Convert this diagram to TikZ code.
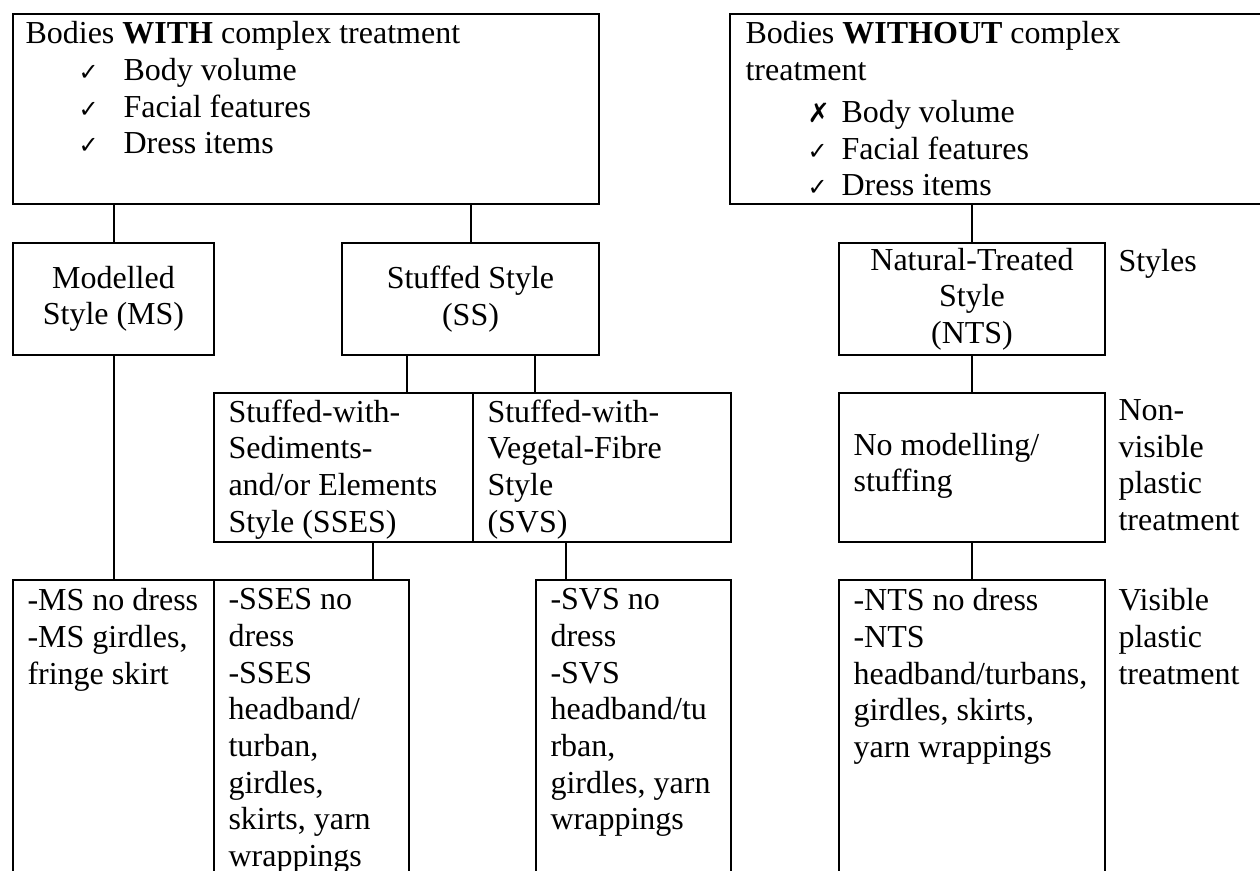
\documentclass[tikz,border=0pt]{standalone}
\usepackage{fontspec}
\setmainfont{Liberation Serif}
\newfontfamily\symfont{DejaVu Sans}
\newlength{\px}\setlength{\px}{0.375pt}
\newcommand{\cmark}{{\symfont\fontsize{9}{9}\selectfont ✓}}
\newcommand{\xmark}{{\symfont\fontsize{10}{10}\selectfont ✗}}
\tikzset{
  box/.style={draw, line width=0.75pt, inner sep=0pt, anchor=north west, align=center,
    font=\fontsize{12}{13.75}\selectfont},
  txt/.style={inner sep=0pt, anchor=north west, align=left,
    font=\fontsize{12}{13.75}\selectfont},
  conn/.style={line width=0.75pt}
}
\begin{document}
\begin{tikzpicture}[x=0.375pt,y=-0.375pt]
\path[use as bounding box, clip] (0,0) rectangle (1260,871);
% top row
\node[box, minimum width=586\px, minimum height=190\px] (bwith) at (12,13) {};
\node[txt] (bwitht) at (25,21) {Bodies \textbf{WITH} complex treatment\\
  \hspace*{53\px}\makebox[45\px][l]{\cmark}Body volume\\
  \hspace*{53\px}\makebox[45\px][l]{\cmark}Facial features\\
  \hspace*{53\px}\makebox[45\px][l]{\cmark}Dress items};
\node[box, minimum width=571\px, minimum height=190\px] (bwithout) at (729,13) {};
\node[txt] (bwithoutt) at (745,21) {Bodies \textbf{WITHOUT} complex\\
  treatment\\[2pt]
  \hspace*{62\px}\makebox[34\px][l]{\xmark}Body volume\\
  \hspace*{62\px}\makebox[34\px][l]{\cmark}Facial features\\
  \hspace*{62\px}\makebox[34\px][l]{\cmark}Dress items};
% styles
\node[box, minimum width=201\px, minimum height=112\px] (ms) at (12,242) {Modelled\\Style (MS)};
\node[box, minimum width=257\px, minimum height=112\px] (ss) at (341,242) {Stuffed Style\\(SS)};
\node[box, minimum width=266\px, minimum height=112\px] (nts) at (838,242) {Natural-Treated\\Style\\(NTS)};
\node[txt] (lstyles) at (1118,249) {Styles};
% sub-styles
\node[box, minimum width=259\px, minimum height=149\px] (sses) at (213,392) {};
\node[txt] (ssest) at (228,399) {Stuffed-with-\\Sediments-\\and/or Elements\\Style (SSES)};
\node[box, minimum width=258\px, minimum height=149\px] (svs) at (472,392) {};
\node[txt] (svst) at (487,399) {Stuffed-with-\\Vegetal-Fibre\\Style\\(SVS)};
\node[box, minimum width=266\px, minimum height=149\px] (nomod) at (838,392) {};
\node[txt, anchor=west] (nomodt) at (853,466) {No modelling/\\stuffing};
\node[txt] (lnonvis) at (1118,399) {Non-\\visible\\plastic\\treatment};
% dress
\node[box, minimum width=201\px, minimum height=320\px] (msl) at (12,579) {};
\node[txt] (mslt) at (27,588) {-MS no dress\\-MS girdles,\\fringe skirt};
\node[box, minimum width=195\px, minimum height=320\px] (ssesl) at (213,579) {};
\node[txt] (ssesl-t) at (228,588) {-SSES no\\dress\\-SSES\\headband/\\turban,\\girdles,\\skirts, yarn\\wrappings};
\node[box, minimum width=195\px, minimum height=320\px] (svsl) at (535,579) {};
\node[txt] (svslt) at (550,588) {-SVS no\\dress\\-SVS\\headband/tu\\rban,\\girdles, yarn\\wrappings};
\node[box, minimum width=266\px, minimum height=320\px] (ntsl) at (838,579) {};
\node[txt] (ntslt) at (853,588) {-NTS no dress\\-NTS\\headband/turbans,\\girdles, skirts,\\yarn wrappings};
\node[txt] (lvis) at (1118,588) {Visible\\plastic\\treatment};
% connectors
\coordinate (ka) at (407,0);
\coordinate (kb) at (535,0);
\coordinate (kc) at (373,0);
\coordinate (kd) at (566,0);
\draw[conn] (bwith.south -| ms.north) -- (ms.north);
\draw[conn] (bwith.south -| ss.north) -- (ss.north);
\draw[conn] (bwithout.south -| nts.north) -- (nts.north);
\draw[conn] (ss.south -| ka) -- (sses.north -| ka);
\draw[conn] (ss.south -| kb) -- (svs.north -| kb);
\draw[conn] (ms.south) -- (msl.north -| ms.south);
\draw[conn] (sses.south -| kc) -- (ssesl.north -| kc);
\draw[conn] (svs.south -| kd) -- (svsl.north -| kd);
\draw[conn] (nts.south) -- (nomod.north);
\draw[conn] (nomod.south) -- (ntsl.north);
\end{tikzpicture}
\end{document}
